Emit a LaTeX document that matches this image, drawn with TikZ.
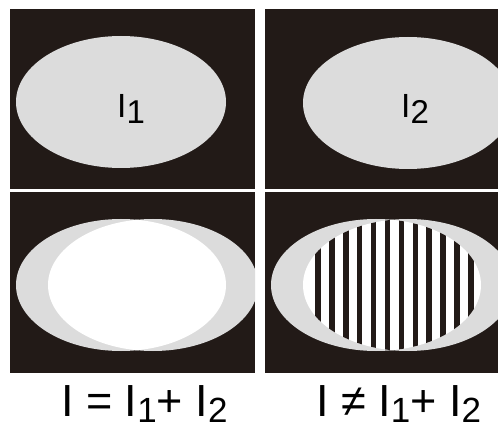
\documentclass[tikz,border=0pt]{standalone}
\usepackage{fontspec}
\setmainfont{Liberation Sans}
\definecolor{paneldark}{HTML}{221A17}
\definecolor{beamgray}{HTML}{DCDCDC}
\newcommand{\lowsub}[3]{\raisebox{-#2pt}{\fontsize{#3}{#3}\selectfont #1}}
\begin{document}
\begin{tikzpicture}[x=1pt,y=-1pt,
  beam/.style={fill=beamgray},
  overlap/.style={fill=white},
  bar/.style={fill=paneldark},
  biglabel/.style={inner sep=0pt,anchor=base west,font=\fontsize{45}{45}\selectfont},
  smalllabel/.style={inner sep=0pt,anchor=base west,font=\fontsize{33.5}{33.5}\selectfont}]
\useasboundingbox[fill=white] (0,0) rectangle (498,430);
% top-left panel: beam I1
\begin{scope}
  \clip (10,9) rectangle (255,189);
  \fill[paneldark] (10,9) rectangle (255,189);
  \fill[beam] (121,102) ellipse [x radius=105pt, y radius=66pt];
\end{scope}
% top-right panel: beam I2
\begin{scope}
  \clip (265,9) rectangle (498,189);
  \fill[paneldark] (265,9) rectangle (498,189);
  \fill[beam] (408,103) ellipse [x radius=105pt, y radius=66pt];
\end{scope}
% bottom-left panel: incoherent sum
\begin{scope}
  \clip (10,192) rectangle (255,373);
  \fill[paneldark] (10,192) rectangle (255,373);
  \fill[beam] (121,285) ellipse [x radius=105pt, y radius=66pt];
  \fill[beam] (153,285) ellipse [x radius=105pt, y radius=66pt];
  \begin{scope}
    \clip (121,285) ellipse [x radius=105pt, y radius=66pt];
    \fill[overlap] (153,285) ellipse [x radius=105pt, y radius=66pt];
  \end{scope}
\end{scope}
% bottom-right panel: interference fringes
\begin{scope}
  \clip (265,192) rectangle (498,373);
  \fill[paneldark] (265,192) rectangle (498,373);
  \fill[beam] (376,285) ellipse [x radius=105pt, y radius=66pt];
  \fill[beam] (408,285) ellipse [x radius=105pt, y radius=66pt];
  \begin{scope}
    \clip (376,285) ellipse [x radius=105pt, y radius=66pt];
    \clip (408,285) ellipse [x radius=105pt, y radius=66pt];
    \fill[overlap] (300,210) rectangle (490,360);
    \foreach \k in {0,...,11} {
      \fill[bar] ({315.25+13.9*\k},210) rectangle ({320.75+13.9*\k},360);
    }
  \end{scope}
\end{scope}
% labels
\node[smalllabel] (l1) at (117,118) {I\lowsub{1}{6}{33}};
\node[smalllabel] (l2) at (401,118) {I\lowsub{2}{6}{33}};
\node[biglabel] (eqa) at (61,416) {I = I\lowsub{1}{6}{35}+ I\lowsub{2}{6}{35}};
\node[biglabel] (eqb) at (316,416) {I ≠ I\lowsub{1}{6}{35}+ I\lowsub{2}{6}{35}};
\end{tikzpicture}
\end{document}
